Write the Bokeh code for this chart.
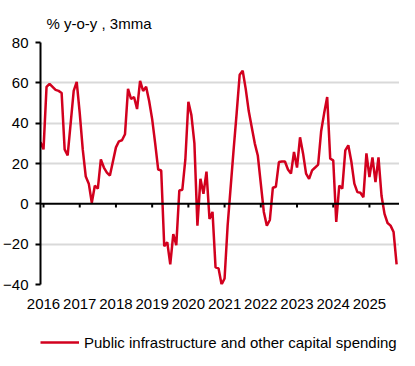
from bokeh.plotting import figure
from bokeh.models import FixedTicker, Legend, LegendItem, Range1d, Span
from bokeh.layouts import column
from bokeh.embed import file_html
from bokeh.resources import INLINE

title_text = "% y-o-y , 3mma"
series_name = "Public infrastructure and other capital spending"
tick_years = list(range(2016, 2026))
y_ticks = [-40, -20, 0, 20, 40, 60, 80]

# monthly 3mma, starting Dec 2015
start_year = 2015
start_month = 12
values = [
    30.6,                                                      # Dec 2015
    27, 58, 59.5, 58, 56.5, 56, 55, 27, 24, 40, 56, 60.5,      # 2016
    45, 27, 13.5, 10, 0.5, 9, 7.5, 22, 18, 15.5, 14, 21,       # 2017
    28, 31, 31.5, 34.5, 57, 52, 53, 47, 61, 56, 58, 51,        # 2018
    42, 30, 17, 16.5, -21, -19, -30, -15, -20.5, 6.6, 7, 22,   # 2019
    50.6, 44, 30, -10.8, 12.4, 5, 16, -7.5, -4, -31.5, -32, -40,  # 2020
    -37, -11, 8, 27, 45, 64, 66, 57, 46, 38, 30, 24,           # 2021
    10, -4, -10.8, -8, 8, 8.5, 20.7, 21, 21, 17, 15, 25.7,     # 2022
    18, 33, 25, 15, 12.4, 16.6, 18, 19.5, 36, 45, 53, 22.4,    # 2023
    21.6, -9, 9, 7.5, 26.5, 29, 21, 10, 5.8, 5.5, 3.3, 25,     # 2024
    13.3, 23, 10.8, 23, 4, -5, -9.5, -10.8, -14, -30,          # 2025
]
x = [start_year + (start_month - 1 + i) / 12 for i in range(len(values))]

FONT = "Liberation Sans"
RED = "#d2001e"
TICK_LEN = 1.8  # zero-line tick length in data units

p = figure(width=399, height=316, output_backend="svg", toolbar_location=None,
           x_range=Range1d(x[0], 2025.83), y_range=Range1d(-40, 80),
           min_border_left=0, min_border_right=0, min_border_top=42, min_border_bottom=32)
p.outline_line_color = None
p.xgrid.grid_line_color = None
p.ygrid.ticker = FixedTicker(ticks=[t for t in y_ticks if t != 0])
p.ygrid.grid_line_color = "#d9d9d9"
p.ygrid.grid_line_width = 2

p.yaxis.ticker = FixedTicker(ticks=y_ticks)
p.yaxis.axis_line_width = 2
p.yaxis.axis_line_color = "black"
p.yaxis.major_tick_out = 5
p.yaxis.major_tick_in = 0
p.yaxis.major_tick_line_width = 2
p.yaxis.minor_tick_line_color = None
p.yaxis.major_label_text_font = FONT
p.yaxis.major_label_text_font_size = "15px"
p.yaxis.major_label_text_color = "black"
p.yaxis.major_label_standoff = 7

p.xaxis.ticker = FixedTicker(ticks=tick_years)
p.xaxis.axis_line_color = None
p.xaxis.major_tick_line_color = None
p.xaxis.major_tick_out = 0
p.xaxis.major_tick_in = 0
p.xaxis.minor_tick_line_color = None
p.xaxis.major_label_text_font = FONT
p.xaxis.major_label_text_font_size = "15px"
p.xaxis.major_label_text_color = "black"
p.xaxis.major_label_standoff = 14

# zero line with year ticks
p.add_layout(Span(location=0, dimension="width", line_color="black", line_width=2))
p.segment(x0=tick_years, y0=[0] * len(tick_years), x1=tick_years,
          y1=[-TICK_LEN] * len(tick_years), line_color="black", line_width=2)

r = p.line(x, values, line_color=RED, line_width=2.5)

p.title.text = title_text
p.title.text_font = FONT
p.title.text_font_size = "15px"
p.title.text_font_style = "normal"
p.title.text_color = "black"
p.title.align = "left"
p.title.offset = 6
p.title.standoff = 21

# legend strip below the chart
leg = figure(width=399, height=41, output_backend="svg", toolbar_location=None,
             x_axis_type=None, y_axis_type=None, min_border=0,
             x_range=Range1d(0, 1), y_range=Range1d(0, 1))
leg.outline_line_color = None
leg.grid.grid_line_color = None
r2 = leg.line(x, values, line_color=RED, line_width=2.5)
legend = Legend(items=[LegendItem(label=series_name, renderers=[r2])],
                location=(0, 5), orientation="horizontal",
                label_text_font=FONT, label_text_font_size="15px",
                label_text_color="black", background_fill_alpha=0,
                glyph_width=39, label_standoff=5, border_line_color=None,
                padding=0, margin=0)
leg.add_layout(legend)

layout = column(p, leg, spacing=0)
open("out.html", "w").write(file_html(layout, INLINE))
